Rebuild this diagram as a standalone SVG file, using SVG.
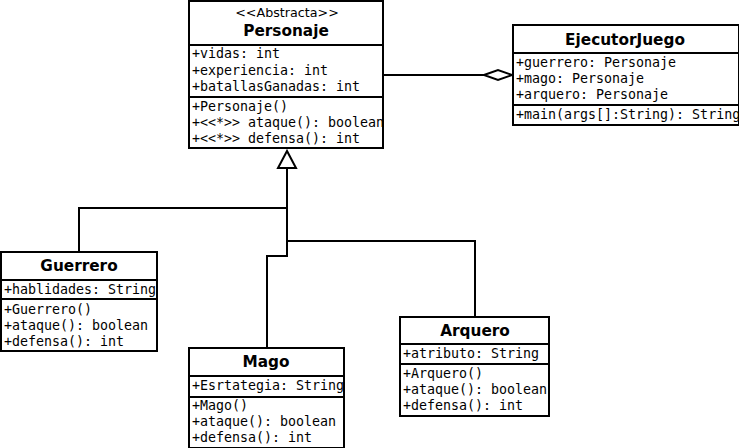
<svg xmlns="http://www.w3.org/2000/svg" width="739" height="448" viewBox="0 0 739 448">
<style>
.box{fill:#fff;stroke:#000;stroke-width:2}
.sep{stroke:#000;stroke-width:2}
.m{font-family:"DejaVu Sans Mono",monospace;font-size:13.3px;fill:#000}
.t{font-family:"DejaVu Sans",sans-serif;font-size:15.3px;font-weight:bold;fill:#000;text-anchor:middle}
.s{font-family:"DejaVu Sans",sans-serif;font-size:12.7px;fill:#000;text-anchor:middle}
.c{fill:none;stroke:#000;stroke-width:2}
</style>
<rect width="739" height="448" fill="#fff"/>
<g id="connectors">
<polyline class="c" points="383,75 484,75"/>
<polygon points="484,75 498,70 512,75 498,80" fill="#fff" stroke="#000" stroke-width="2"/>
<polyline class="c" points="287,168 287,256 267,256 267,347"/>
<polyline class="c" points="79,252 79,208 287,208"/>
<polyline class="c" points="287,241 475,241 475,317"/>
<polygon points="287,151 278,168 296,168" fill="#fff" stroke="#000" stroke-width="2"/>
</g>
<g id="Personaje">
<rect class="box" x="189" y="1" width="194" height="147"/>
<line class="sep" x1="189" y1="45" x2="383" y2="45"/>
<line class="sep" x1="189" y1="97" x2="383" y2="97"/>
<text class="s" x="287" y="17">&lt;&lt;Abstracta&gt;&gt;</text>
<text class="t" x="286" y="36">Personaje</text>
<text class="m" x="192" y="58">+vidas: int</text>
<text class="m" x="192" y="75">+experiencia: int</text>
<text class="m" x="192" y="91">+batallasGanadas: int</text>
<text class="m" x="192" y="111">+Personaje()</text>
<text class="m" x="192" y="127">+&lt;&lt;*&gt;&gt; ataque(): boolean</text>
<text class="m" x="192" y="143">+&lt;&lt;*&gt;&gt; defensa(): int</text>
</g>
<g id="EjecutorJuego">
<rect class="box" x="513" y="25" width="226" height="100"/>
<line class="sep" x1="513" y1="53" x2="739" y2="53"/>
<line class="sep" x1="513" y1="105" x2="739" y2="105"/>
<text class="t" x="625" y="45">EjecutorJuego</text>
<text class="m" x="516" y="67">+guerrero: Personaje</text>
<text class="m" x="516" y="83">+mago: Personaje</text>
<text class="m" x="516" y="99">+arquero: Personaje</text>
<text class="m" x="516" y="119">+main(args[]:String): String</text>
</g>
<g id="Guerrero">
<rect class="box" x="1" y="252" width="156" height="99"/>
<line class="sep" x1="1" y1="280" x2="157" y2="280"/>
<line class="sep" x1="1" y1="299" x2="157" y2="299"/>
<text class="t" x="79" y="271">Guerrero</text>
<text class="m" x="4" y="294">+hablidades: String</text>
<text class="m" x="4" y="314">+Guerrero()</text>
<text class="m" x="4" y="330">+ataque(): boolean</text>
<text class="m" x="4" y="346">+defensa(): int</text>
</g>
<g id="Mago">
<rect class="box" x="189" y="348" width="155" height="100"/>
<line class="sep" x1="189" y1="376" x2="344" y2="376"/>
<line class="sep" x1="189" y1="397" x2="344" y2="397"/>
<text class="t" x="266" y="367">Mago</text>
<text class="m" x="192" y="390">+Esrtategia: String</text>
<text class="m" x="192" y="410">+Mago()</text>
<text class="m" x="192" y="426">+ataque(): boolean</text>
<text class="m" x="192" y="442">+defensa(): int</text>
</g>
<g id="Arquero">
<rect class="box" x="400" y="317" width="149" height="99"/>
<line class="sep" x1="400" y1="344" x2="549" y2="344"/>
<line class="sep" x1="400" y1="364" x2="549" y2="364"/>
<text class="t" x="475" y="336">Arquero</text>
<text class="m" x="403" y="358">+atributo: String</text>
<text class="m" x="403" y="378">+Arquero()</text>
<text class="m" x="403" y="394">+ataque(): boolean</text>
<text class="m" x="403" y="410">+defensa(): int</text>
</g>
</svg>
